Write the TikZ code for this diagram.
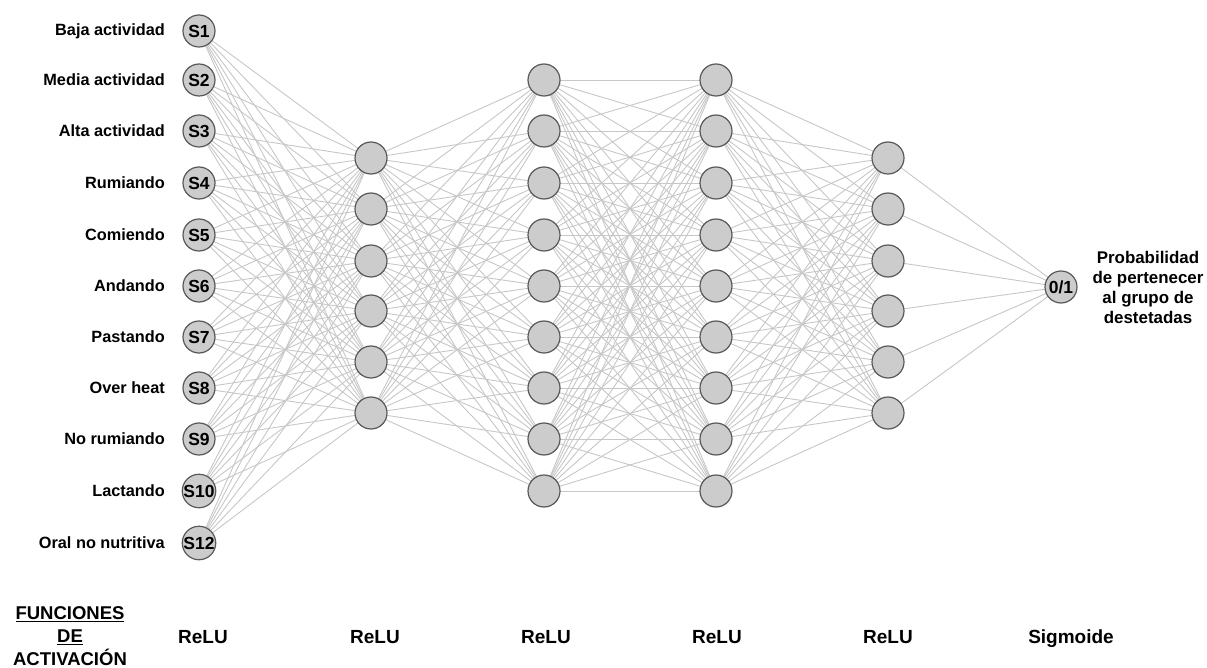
\documentclass[tikz,border=0pt]{standalone}
\usepackage{fontspec}
\setmainfont{Liberation Sans}
\begin{document}
\begin{tikzpicture}[x=1pt,y=-1pt,
  neuron/.style={circle,draw=black!65,fill=black!20,line width=1.2pt,minimum size=32pt,inner sep=0pt,font=\fontsize{17.5}{19}\selectfont\bfseries},
  link/.style={draw=black!22,line width=0.9pt},
  lbl/.style={font=\fontsize{16.3}{18}\selectfont\bfseries,inner sep=0pt},
  fn/.style={font=\fontsize{19}{21}\selectfont\bfseries,inner sep=0pt,anchor=base},
  note/.style={font=\fontsize{16.9}{20.3}\selectfont\bfseries,inner sep=0pt,align=center},
  head/.style={font=\fontsize{18.5}{23}\selectfont\bfseries,inner sep=0pt,align=center}]
\useasboundingbox (0,0) rectangle (1207,668);
% layer positions
\def\yA{31,80,131,183,235,286,337,388,439,491,543}
\def\yB{158,209,261,311,362,413}
\def\yC{80,131,183,235,286,337,388,439,491}
\foreach \y [count=\i] in \yA {\coordinate (a\i) at (199,\y);}
\foreach \y [count=\i] in \yB {\coordinate (b\i) at (371,\y);}
\foreach \y [count=\i] in \yC {\coordinate (c\i) at (544,\y);}
\foreach \y [count=\i] in \yC {\coordinate (d\i) at (716,\y);}
\foreach \y [count=\i] in \yB {\coordinate (e\i) at (888,\y);}
\coordinate (f1) at (1061,287);
% connections between consecutive layers
\foreach \i in {1,...,11}{\foreach \j in {1,...,6}{\draw[link] (a\i) -- (b\j);}}
\foreach \i in {1,...,6}{\foreach \j in {1,...,9}{\draw[link] (b\i) -- (c\j);}}
\foreach \i in {1,...,9}{\foreach \j in {1,...,9}{\draw[link] (c\i) -- (d\j);}}
\foreach \i in {1,...,9}{\foreach \j in {1,...,6}{\draw[link] (d\i) -- (e\j);}}
\foreach \i in {1,...,6}{\draw[link] (e\i) -- (f1);}
% neurons
\foreach \t [count=\i] in {S1,S2,S3,S4,S5,S6,S7,S8,S9,S10,S12}{\node[neuron] (na\i) at (a\i) {\t};}
\foreach \i in {1,...,6}{\node[neuron] (nb\i) at (b\i) {};}
\foreach \i in {1,...,9}{\node[neuron] (nc\i) at (c\i) {};}
\foreach \i in {1,...,9}{\node[neuron] (nd\i) at (d\i) {};}
\foreach \i in {1,...,6}{\node[neuron] (ne\i) at (e\i) {};}
\node[neuron] (nf1) at (f1) {0/1};
% input labels
\foreach \t [count=\i] in {Baja actividad,Media actividad,Alta actividad,Rumiando,Comiendo,Andando,Pastando,Over heat,No rumiando,Lactando,Oral no nutritiva}
  {\node[lbl,anchor=east] (la\i) at ([xshift=-34pt]na\i.center) {\t};}
% output label
\node[note] (out) at (1148,287.5) {Probabilidad\\de pertenecer\\al grupo de\\destetadas};
% activation functions
\node[head] (fa) at (70,636) {\underline{FUNCIONES}\\\underline{DE}\\ACTIVACIÓN};
\foreach \x [count=\i] in {203,375,546,717,888}{\node[fn] (r\i) at (\x,643) {ReLU};}
\node[fn] (sg) at (1071,643) {Sigmoide};
\end{tikzpicture}
\end{document}
